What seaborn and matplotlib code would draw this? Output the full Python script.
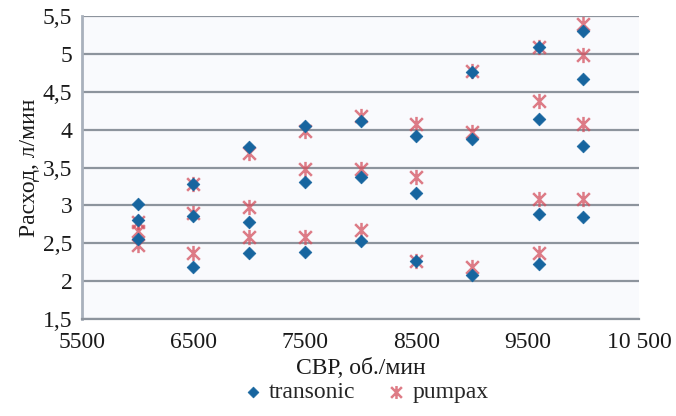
import matplotlib
matplotlib.use("Agg")
import matplotlib.pyplot as plt
from matplotlib.path import Path
from matplotlib.ticker import FixedLocator, FuncFormatter
import seaborn as sns
import pandas as pd

# ---- data ----
rpm_transonic = [6000, 6000, 6000, 6500, 6500, 6500, 7000, 7000, 7000,
                 7500, 7500, 7500, 8000, 8000, 8000, 8500, 8500, 8500,
                 9000, 9000, 9000, 9600, 9600, 9600, 9600,
                 10000, 10000, 10000, 10000]
flow_transonic = [3.02, 2.81, 2.55, 3.28, 2.86, 2.18, 3.77, 2.78, 2.37,
                  4.05, 3.31, 2.38, 4.12, 3.37, 2.53, 3.92, 3.16, 2.27,
                  4.76, 3.87, 2.08, 5.09, 4.14, 2.88, 2.23,
                  5.30, 4.67, 3.79, 2.85]

rpm_pumpax = [6000, 6000, 6000, 6500, 6500, 6500, 7000, 7000, 7000,
              7500, 7500, 7500, 8000, 8000, 8000, 8500, 8500, 8500,
              9000, 9000, 9000, 9600, 9600, 9600, 9600,
              10000, 10000, 10000, 10000]
flow_pumpax = [2.78, 2.66, 2.48, 3.28, 2.90, 2.37, 3.69, 2.98, 2.58,
               3.98, 3.48, 2.58, 4.18, 3.48, 2.67, 4.08, 3.38, 2.27,
               4.78, 3.97, 2.18, 5.09, 4.38, 3.08, 2.37,
               5.39, 4.98, 4.08, 3.08]

x_ticks = [5500, 6500, 7500, 8500, 9500, 10500]
x_tick_labels = ["5500", "6500", "7500", "8500", "9500", "10 500"]
y_ticks = [1.5, 2, 2.5, 3, 3.5, 4, 4.5, 5, 5.5]

series_names = ["transonic", "pumpax"]
x_label = "СВР, об./мин"
y_label = "Расход, л/мин"

df_t = pd.DataFrame({"rpm": rpm_transonic, "flow": flow_transonic})
df_p = pd.DataFrame({"rpm": rpm_pumpax, "flow": flow_pumpax})

# ---- style ----
sns.set_style("white")
plt.rcParams["font.family"] = ["Liberation Serif", "DejaVu Serif"]

fig = plt.figure(figsize=(6.76, 4.16), dpi=100)
ax = fig.add_axes([82 / 676, 1 - 319 / 416, (639 - 82) / 676, (319 - 16) / 416])
ax.set_facecolor("#f9fafd")

blue = "#17659f"
red = "#d4505e"

star = Path([(-1, -1), (1, 1), (-1, 1), (1, -1), (0, -1.2), (0, 1.2)],
            [Path.MOVETO, Path.LINETO, Path.MOVETO, Path.LINETO,
             Path.MOVETO, Path.LINETO])

sns.scatterplot(data=df_p, x="rpm", y="flow", ax=ax, marker=star, s=120,
                color=red, edgecolor=red, linewidth=1.8, alpha=0.75,
                label=series_names[1], zorder=3)
sns.scatterplot(data=df_t, x="rpm", y="flow", ax=ax, marker="D", s=42,
                color=blue, edgecolor=blue, linewidth=0.5,
                label=series_names[0], zorder=4)

ax.set_xlim(5500, 10500)
ax.set_ylim(1.5, 5.5)
ax.xaxis.set_major_locator(FixedLocator(x_ticks))
ax.set_xticklabels(x_tick_labels)
ax.yaxis.set_major_locator(FixedLocator(y_ticks))
ax.yaxis.set_major_formatter(FuncFormatter(lambda v, p: f"{v:g}".replace(".", ",")))

ax.grid(axis="y", color="#8d949d", linewidth=1.6, zorder=1)
ax.set_axisbelow(True)
for s in ["top", "right"]:
    ax.spines[s].set_visible(False)
ax.spines["left"].set_color("#a9b1bc")
ax.spines["left"].set_linewidth(2)
ax.spines["bottom"].set_color("#8d949d")
ax.spines["bottom"].set_linewidth(1.6)

ax.tick_params(axis="both", direction="out", length=4, width=1.5,
               color="#a9b1bc", labelsize=17, labelcolor="#1a1a1a")
ax.tick_params(axis="y", pad=3)
ax.tick_params(axis="x", pad=5)

ax.set_xlabel(x_label, fontsize=17, color="#1a1a1a", labelpad=4)
ax.set_ylabel(y_label, fontsize=17, color="#1a1a1a", labelpad=2)

handles, labels = ax.get_legend_handles_labels()
order = [labels.index(n) for n in series_names]
ax.legend([handles[i] for i in order], [labels[i] for i in order],
          loc="center", bbox_to_anchor=(367 / 676, 1 - 392 / 416),
          bbox_transform=fig.transFigure, ncol=2, frameon=False,
          fontsize=17, handlelength=0.6, handletextpad=0.4,
          columnspacing=1.4, markerscale=0.85)

fig.savefig("out.png", dpi=100, facecolor="white")
